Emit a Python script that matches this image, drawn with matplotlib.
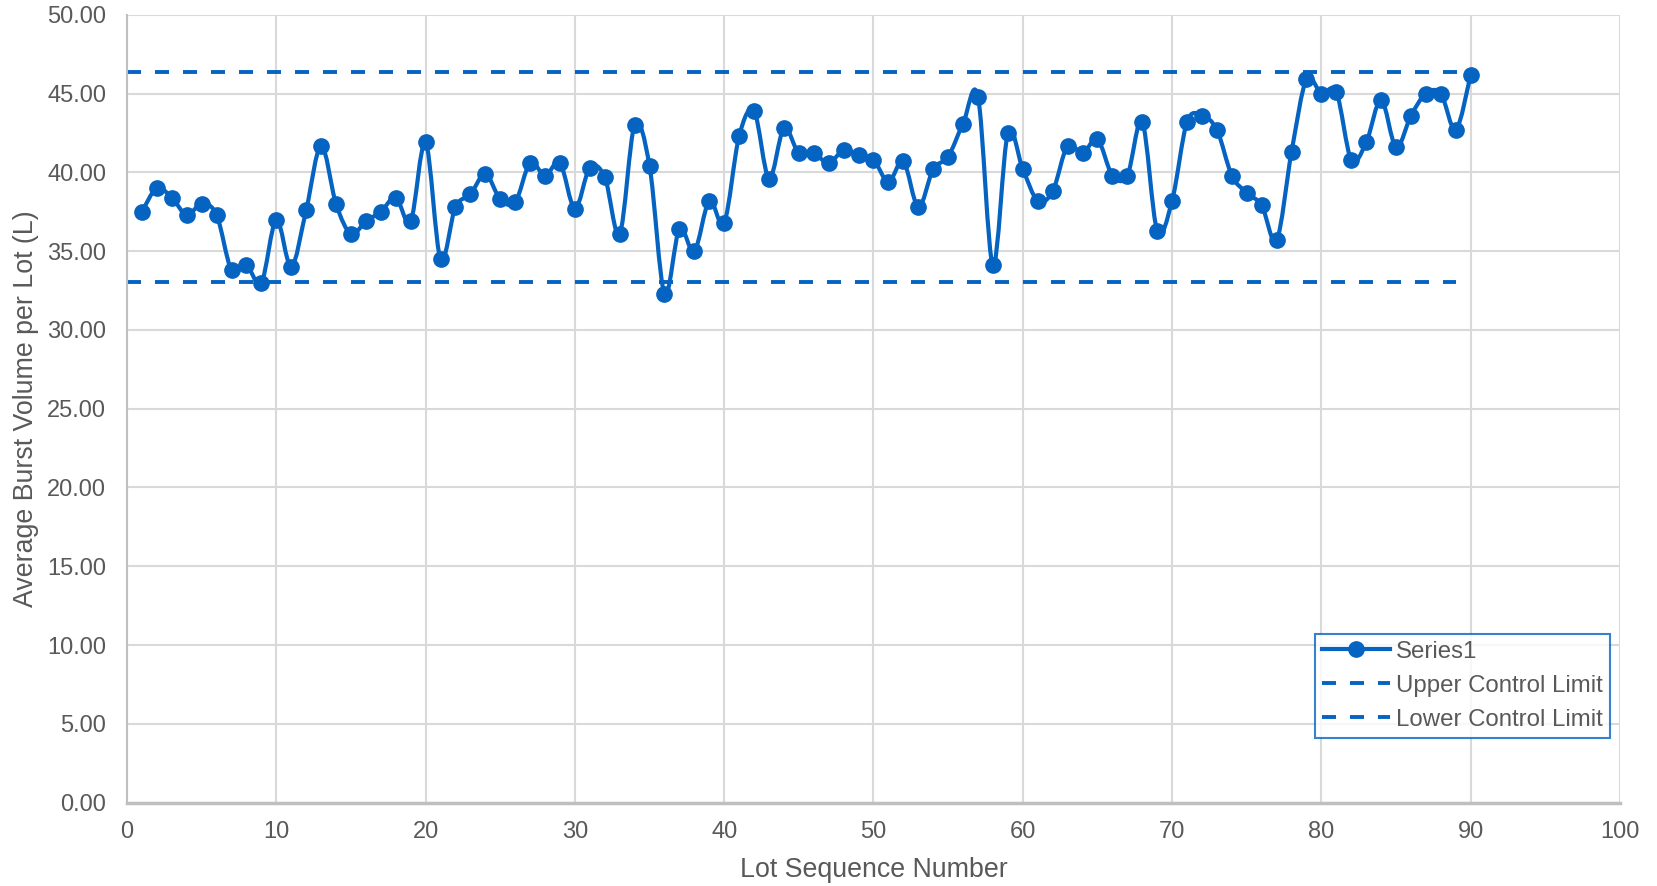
import numpy as np
import matplotlib
matplotlib.use("Agg")
import matplotlib.pyplot as plt
from matplotlib.path import Path
from matplotlib.patches import PathPatch
from matplotlib.lines import Line2D

# average burst volume per lot, lots 1..90
lots = list(range(1, 91))
burst = [
    37.5, 39.0, 38.4, 37.3, 38.0, 37.3, 33.8, 34.1, 33.0, 37.0,
    34.0, 37.6, 41.7, 38.0, 36.1, 36.9, 37.5, 38.4, 36.9, 41.9,
    34.5, 37.8, 38.6, 39.9, 38.3, 38.1, 40.6, 39.8, 40.6, 37.7,
    40.3, 39.7, 36.1, 43.0, 40.4, 32.3, 36.4, 35.0, 38.2, 36.8,
    42.3, 43.9, 39.6, 42.8, 41.2, 41.2, 40.6, 41.4, 41.1, 40.8,
    39.4, 40.7, 37.8, 40.2, 41.0, 43.1, 44.8, 34.1, 42.5, 40.2,
    38.2, 38.8, 41.7, 41.2, 42.1, 39.8, 39.8, 43.2, 36.3, 38.2,
    43.2, 43.6, 42.7, 39.8, 38.7, 37.9, 35.7, 41.3, 45.9, 45.0,
    45.1, 40.8, 41.9, 44.6, 41.6, 43.6, 45.0, 45.0, 42.7, 46.2,
]
ucl_x = [0, 90]
ucl = [46.37, 46.37]
lcl_x = [0, 89]
lcl = [33.03, 33.03]

BLUE = "#0563C1"
GREY = "#595959"

plt.rcParams['font.family'] = ['Liberation Sans', 'DejaVu Sans']


def smooth_path(xs, ys, t=1.0 / 6):
    # cubic bezier segments through every point (spreadsheet-style smoothing)
    pts = np.column_stack([xs, ys]).astype(float)
    verts = [pts[0]]
    codes = [Path.MOVETO]
    n = len(pts)
    for i in range(n - 1):
        p0 = pts[i - 1] if i > 0 else pts[i]
        p1 = pts[i]
        p2 = pts[i + 1]
        p3 = pts[i + 2] if i + 2 < n else pts[i + 1]
        c1 = p1 + (p2 - p0) * t
        c2 = p2 - (p3 - p1) * t
        verts += [c1, c2, p2]
        codes += [Path.CURVE4] * 3
    return Path(verts, codes)


fig = plt.figure(figsize=(16.58, 8.86), dpi=100)
ax = fig.add_axes([127 / 1658, 83.4 / 886, (1620 - 127) / 1658, (802.6 - 14.8) / 886])

ax.add_patch(PathPatch(smooth_path(lots, burst), fill=False, edgecolor=BLUE,
                       lw=3, capstyle='round', joinstyle='round', zorder=3))
ax.plot(lots, burst, linestyle='none', marker='o', ms=11, color=BLUE, zorder=4)
ax.plot(ucl_x, ucl, color=BLUE, lw=2.8, dashes=(3.6, 3.6), dash_capstyle='butt', zorder=2)
ax.plot(lcl_x, lcl, color=BLUE, lw=2.8, dashes=(3.6, 3.6), dash_capstyle='butt', zorder=2)

ax.set_xlim(0, 100)
ax.set_ylim(0, 50)
ax.set_xticks(np.arange(0, 101, 10))
ax.set_yticks(np.arange(0, 50.1, 5))
ax.yaxis.set_major_formatter(matplotlib.ticker.FormatStrFormatter('%.2f'))
ax.grid(True, color='#d9d9d9', lw=1.5, zorder=0)
ax.set_axisbelow(True)
for side in ['top', 'right']:
    ax.spines[side].set_visible(False)
ax.spines['left'].set_color('#bfbfbf')
ax.spines['left'].set_linewidth(1.5)
ax.spines['bottom'].set_color('#bfbfbf')
ax.spines['bottom'].set_linewidth(2.5)
ax.tick_params(length=0, labelsize=17, colors=GREY)
ax.tick_params(axis='y', pad=15)
ax.tick_params(axis='x', pad=13)

ax.set_xlabel('Lot Sequence Number', fontsize=19.3, color=GREY, labelpad=10)
ax.set_ylabel('Average Burst Volume per Lot (L)', fontsize=19.3, color=GREY, labelpad=6)

handles = [
    Line2D([], [], color=BLUE, lw=3, marker='o', ms=11),
    Line2D([], [], color=BLUE, lw=2.8, dashes=(3.6, 3.6)),
    Line2D([], [], color=BLUE, lw=2.8, dashes=(3.6, 3.6)),
]
leg = ax.legend(handles, ['Series1', 'Upper Control Limit', 'Lower Control Limit'],
                loc='lower right', bbox_to_anchor=(0.993, 0.082), fontsize=17.3,
                frameon=True, fancybox=False, handlelength=2.8, handletextpad=0.25,
                labelspacing=0.5, borderpad=0.3, borderaxespad=0)
leg.get_frame().set_edgecolor(BLUE)
leg.get_frame().set_linewidth(1.5)
for txt in leg.get_texts():
    txt.set_color(GREY)

fig.savefig('out.png', dpi=100)
